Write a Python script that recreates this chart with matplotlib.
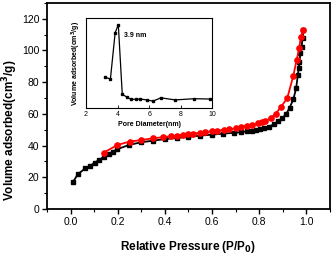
"""N2 adsorption-desorption isotherm with BJH pore size distribution inset."""

import matplotlib

matplotlib.use("Agg")
import matplotlib.pyplot as plt
from matplotlib.ticker import MultipleLocator

plt.rcParams["font.family"] = ["Liberation Sans", "DejaVu Sans"]
plt.rcParams["mathtext.fontset"] = "custom"
plt.rcParams["mathtext.rm"] = "Liberation Sans Narrow"
plt.rcParams["mathtext.bf"] = "Liberation Sans Narrow:bold"

LABEL_FONT = ["Liberation Sans Narrow", "Liberation Sans", "DejaVu Sans"]

# adsorption branch (black squares)
ads_p = [0.011, 0.031, 0.063, 0.081, 0.102, 0.122, 0.142, 0.161, 0.180, 0.199,
         0.248, 0.299, 0.350, 0.400, 0.450, 0.500, 0.550, 0.600, 0.645, 0.695,
         0.723, 0.747, 0.768, 0.786, 0.803, 0.821, 0.842, 0.863, 0.881, 0.898,
         0.915, 0.929, 0.945, 0.957, 0.964, 0.968, 0.971, 0.975, 0.980, 0.984,
         0.988]
ads_v = [17.2, 22.0, 25.7, 27.0, 29.2, 31.0, 33.0, 34.7, 36.2, 37.8,
         40.4, 42.1, 43.1, 44.1, 44.8, 45.5, 46.3, 46.9, 47.5, 48.1,
         48.4, 49.0, 49.4, 49.8, 50.3, 50.9, 52.0, 53.4, 55.3, 57.2,
         60.0, 63.8, 69.2, 76.2, 84.5, 88.8, 93.0, 98.3, 102.4, 107.7,
         113.0]

# desorption branch (red circles)
des_p = [0.140, 0.199, 0.250, 0.299, 0.350, 0.390, 0.425, 0.450, 0.475, 0.500,
         0.520, 0.550, 0.570, 0.600, 0.620, 0.650, 0.670, 0.700, 0.723, 0.747,
         0.769, 0.793, 0.811, 0.825, 0.849, 0.870, 0.891, 0.919, 0.945, 0.959,
         0.970, 0.977, 0.988]
des_v = [35.5, 40.4, 42.5, 43.5, 44.6, 45.3, 45.9, 46.3, 46.8, 47.2,
         47.6, 48.1, 48.5, 49.0, 49.4, 49.9, 50.3, 50.8, 51.5, 52.4,
         53.0, 54.0, 54.9, 55.5, 57.2, 60.0, 64.2, 69.8, 84.1, 94.0,
         101.4, 108.8, 113.0]

# pore size distribution (inset)
pore_d = [3.2, 3.55, 3.85, 4.05, 4.3, 4.6, 4.85, 5.15, 5.45, 5.85,
          6.25, 6.75, 7.65, 8.85, 9.85]
pore_v = [0.102, 0.097, 0.251, 0.277, 0.046, 0.036, 0.029, 0.029, 0.030, 0.027,
          0.023, 0.034, 0.027, 0.031, 0.030]

fig = plt.figure(figsize=(3.32, 2.56), dpi=100)
ax = fig.add_axes([0.1416, 0.1836, 0.852, 0.805])

ax.plot(ads_p, ads_v, color="black", marker="s", markersize=3.5, linewidth=1.3)
ax.plot(des_p, des_v, color="red", marker="o", markersize=3.8, linewidth=1.3)

ax.set_xlim(-0.1, 1.1)
ax.set_ylim(0, 130)
ax.xaxis.set_minor_locator(MultipleLocator(0.1))
ax.yaxis.set_minor_locator(MultipleLocator(10))
ax.set_xticks([0.0, 0.2, 0.4, 0.6, 0.8, 1.0])
ax.set_yticks([0, 20, 40, 60, 80, 100, 120])
ax.tick_params(which="major", direction="out", length=3.5, width=1.0,
               labelsize=7.5, pad=2)
ax.tick_params(which="minor", direction="out", length=2, width=0.8)
for spine in ax.spines.values():
    spine.set_linewidth(1.3)
ax.set_xlabel(r"Relative Pressure (P/P$_\mathbf{0}$)", fontsize=8.5,
              fontweight="bold", family=LABEL_FONT, labelpad=9)
ax.set_ylabel(r"Volume adsorbed(cm$^\mathbf{3}$/g)", fontsize=8.5,
              fontweight="bold", family=LABEL_FONT)
ax.yaxis.set_label_coords(-0.097, 0.38)

inset = fig.add_axes([0.259, 0.578, 0.380, 0.352])
inset.plot(pore_d, pore_v, color="black", marker="s", markersize=1.8,
           linewidth=0.9)
inset.set_xlim(2, 10)
inset.set_ylim(0, 0.30)
inset.set_xticks([2, 4, 6, 8, 10])
inset.set_yticks([])
inset.tick_params(direction="in", length=2, width=0.6, labelsize=5, pad=2)
for spine in inset.spines.values():
    spine.set_linewidth(0.8)
inset.set_xlabel("Pore Diameter(nm)", fontsize=5, fontweight="bold", labelpad=2.5)
inset.set_ylabel(r"Volume adsorbed(cm$^\mathbf{3}$/g)", fontsize=5,
                 fontweight="bold", labelpad=2)
inset.text(4.4, 0.243, "3.9 nm", fontsize=5, fontweight="bold", va="center")

fig.savefig("out.png", dpi=100)
